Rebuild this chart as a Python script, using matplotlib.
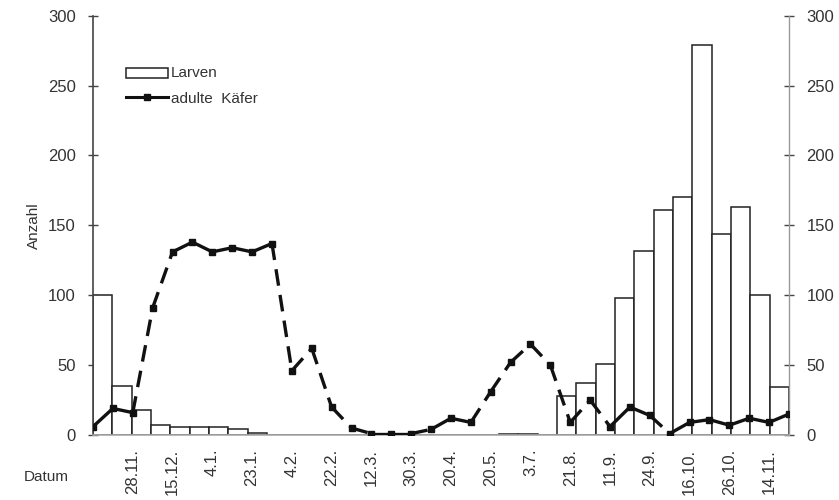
import matplotlib
matplotlib.use("Agg")
import matplotlib.pyplot as plt
import numpy as np

plt.rcParams["font.family"] = ["Liberation Sans", "DejaVu Sans"]

# Larven per sampling date (bars) and adult beetles (line with markers)
larven = [100, 35, 18, 7, 6, 6, 6, 4, 1.5, 0, 0, 0, 0, 0, 0, 0, 0, 0,
          0, 0, 0, 0.5, 1, 0, 28, 37, 51, 98, 132, 161, 170, 279, 144,
          163, 100, 34]
kaefer = [6, 19, 16, 91, 131, 138, 131, 134, 131, 137, 46, 62, 20, 5, 1,
          1, 1, 4, 12, 9, 31, 52, 65, 50, 9, 25, 6, 20, 14, 1, 9, 11, 7,
          12, 9, 15]
# segments (i -> i+1) of the beetle curve that are drawn solid, others dashed
solid_segments = {0, 1, 4, 5, 6, 7, 8, 17, 18, 26, 27, 29, 30, 31, 32, 33, 34}
date_labels = ["28.11.", "15.12.", "4.1.", "23.1.", "4.2.", "22.2.", "12.3.",
               "30.3.", "20.4.", "20.5.", "3.7.", "21.8.", "11.9.", "24.9.",
               "16.10.", "26.10.", "14.11."]
y_ticks = [0, 50, 100, 150, 200, 250, 300]

FS = 11
FS_TICK = 12
TXT = "#333333"

fig = plt.figure(figsize=(8.39, 5.0), dpi=100)
ax = fig.add_axes([93 / 839, 1 - 435 / 500, 696 / 839, 419.3 / 500])

n_bars = len(larven)
ax.bar(np.arange(n_bars) + 0.5, larven, width=1.0, color="white",
       edgecolor="#222222", linewidth=1.1, zorder=2)
ax.set_xlim(0, n_bars)
ax.set_ylim(0, 300)
ax.set_yticks(y_ticks)
ax.set_xticks([])

ax.spines["top"].set_visible(False)
ax.spines["left"].set_color("#444444")
ax.spines["left"].set_linewidth(1.2)
ax.spines["right"].set_color("#999999")
ax.spines["right"].set_linewidth(1.0)
ax.spines["bottom"].set_color("#aaaaaa")
ax.spines["bottom"].set_linewidth(1.2)
ax.tick_params(axis="y", which="both", direction="inout", length=7,
               width=1.0, colors="#444444", labelsize=FS_TICK, labelcolor=TXT,
               left=True, right=True, labelleft=True, labelright=True, pad=9)
ax.set_ylabel("Anzahl", fontsize=FS, color=TXT, labelpad=5)

# beetle curve sits on its own category axis (points on the tick marks)
ax2 = ax.twiny()
n_pts = len(kaefer)
xk = np.arange(n_pts)
ax2.set_xlim(0, n_pts - 1)
for i in range(n_pts - 1):
    if i in solid_segments:
        ax2.plot(xk[i:i + 2], kaefer[i:i + 2], color="#111111", lw=2.4,
                 solid_capstyle="round", zorder=4)
    else:
        ax2.plot(xk[i:i + 2], kaefer[i:i + 2], color="#111111", lw=2.4,
                 linestyle=(0, (5, 2.8)), zorder=4)
ax2.plot(xk, kaefer, "s", color="#111111", ms=5, zorder=5)
ax2.set_ylim(0, 300)
for s in ax2.spines.values():
    s.set_visible(False)
ax2.xaxis.set_ticks_position("bottom")
ax2.xaxis.set_label_position("bottom")
ax2.set_xticks(np.arange(2, 2 * len(date_labels) + 2, 2))
ax2.set_xticklabels(date_labels, rotation=90, fontsize=FS_TICK, color=TXT)
ax2.tick_params(axis="x", length=0, pad=10)

fig.text(46 / 839, 1 - 477 / 500, "Datum", fontsize=FS, color=TXT,
         ha="center", va="center")

# legend drawn by hand in the upper left
lx0, lx1 = 126 / 839, 168 / 839
fig.patches.append(plt.Rectangle((lx0, 1 - 78 / 500), lx1 - lx0, 10 / 500,
                                 transform=fig.transFigure, facecolor="white",
                                 edgecolor="#222222", linewidth=1.1))
fig.text(171 / 839, 1 - 73 / 500, "Larven", fontsize=FS, color=TXT,
         va="center")
fig.lines.append(plt.Line2D([lx0, lx1], [1 - 97 / 500] * 2,
                            transform=fig.transFigure, color="#111111",
                            lw=2.2))
fig.lines.append(plt.Line2D([(lx0 + lx1) / 2], [1 - 97 / 500],
                            transform=fig.transFigure, color="#111111",
                            marker="s", ms=5, lw=0))
fig.text(171 / 839, 1 - 99 / 500, "adulte  Käfer", fontsize=FS, color=TXT,
         va="center")

fig.savefig("out.png", dpi=100)
